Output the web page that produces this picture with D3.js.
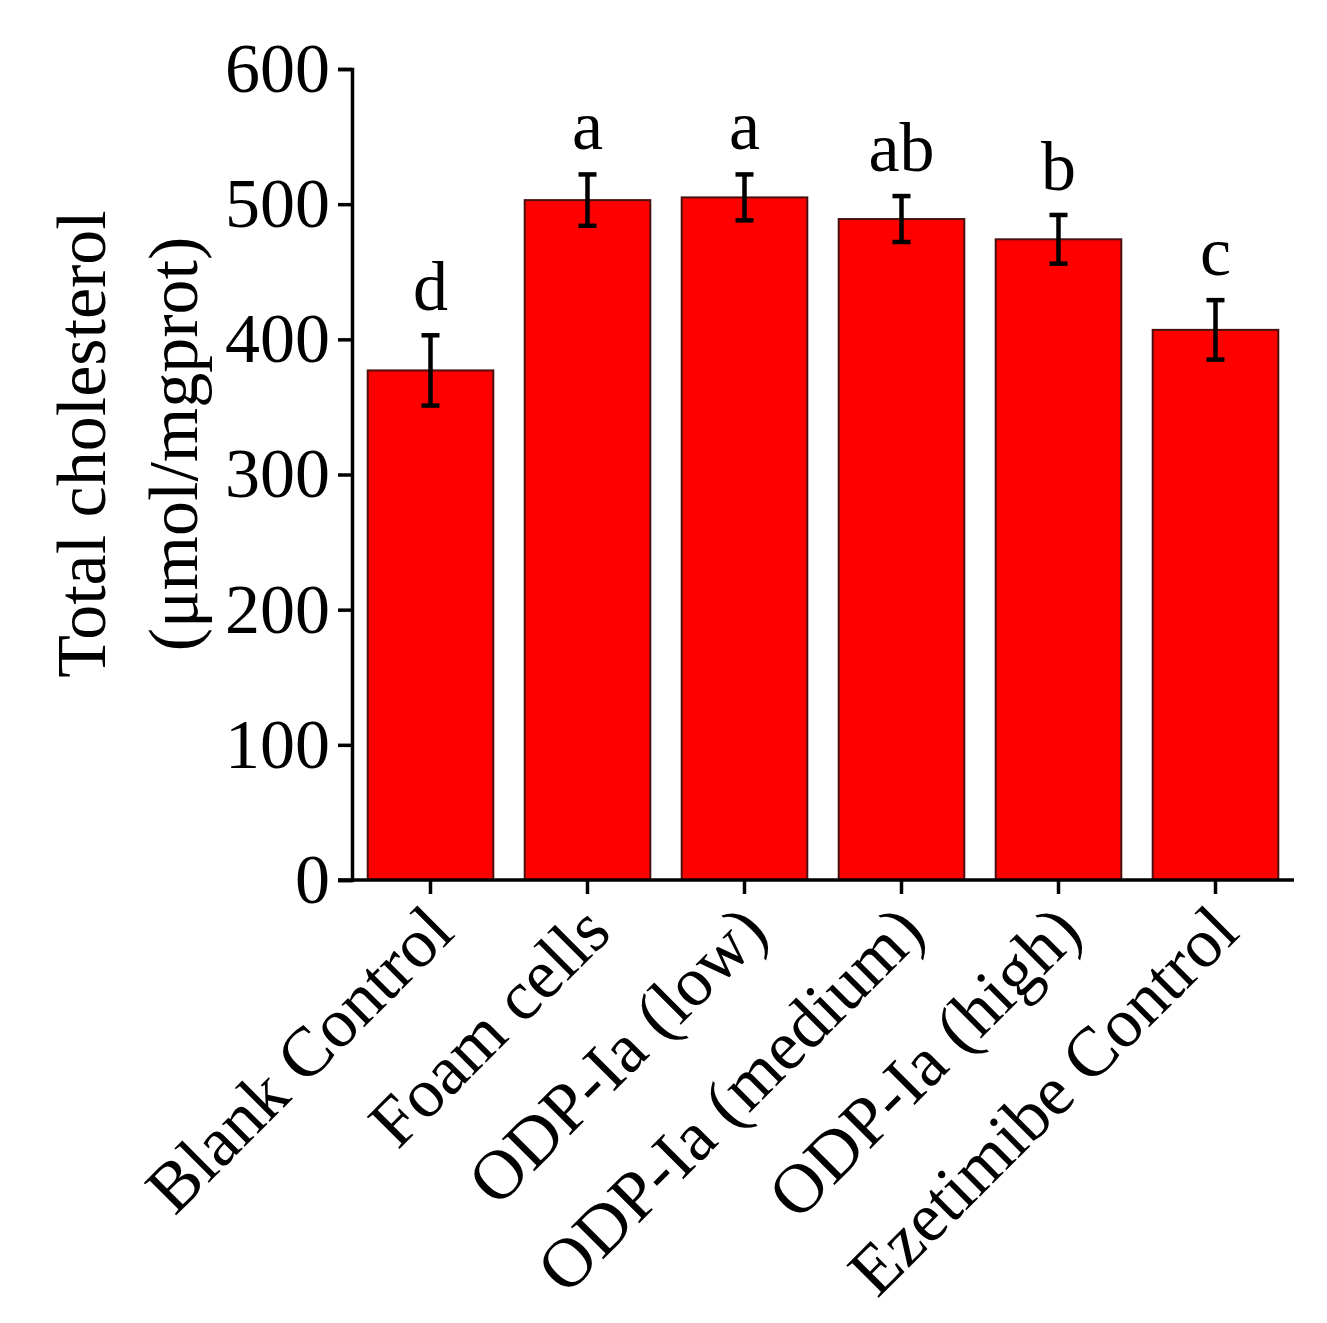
<!DOCTYPE html>
<html>
<head>
<meta charset="utf-8">
<script src="https://cdn.jsdelivr.net/npm/d3@7"></script>
<style>
  html, body { margin: 0; padding: 0; background: #fff; }
  svg text { font-family: "Liberation Serif", "Times New Roman", serif; fill: #000; }
</style>
</head>
<body>
<svg id="chart" width="1327" height="1323"></svg>
<script>
const categories = ["Blank Control", "Foam cells", "ODP-Ia (low)", "ODP-Ia (medium)", "ODP-Ia (high)", "Ezetimibe Control"];
const means = [377, 503, 505, 489, 474, 407];
const errors = [26, 19, 17, 17, 18, 22];
const letters = ["d", "a", "a", "ab", "b", "c"];
const yTicks = [0, 100, 200, 300, 400, 500, 600];
const yTitleLines = ["Total cholesterol", "(\u03BCmol/mgprot)"];

const svg = d3.select("#chart");
const y = d3.scaleLinear().domain([0, 600]).range([880, 69]);
const x = d3.scaleBand().domain(categories).range([352, 1294]).paddingInner(0.2).paddingOuter(0.1);

const data = categories.map((c, i) => ({ c, m: means[i], e: errors[i], l: letters[i] }));

// bars
svg.append("g").selectAll("rect").data(data).join("rect")
  .attr("x", d => x(d.c))
  .attr("y", d => y(d.m))
  .attr("width", x.bandwidth())
  .attr("height", d => y(0) - y(d.m))
  .attr("fill", "#ff0000")
  .attr("stroke", "#4a1010")
  .attr("stroke-width", 2);

// error bars
const eb = svg.append("g").attr("stroke", "#000").attr("stroke-width", 4.5);
data.forEach(d => {
  const cx = x(d.c) + x.bandwidth() / 2;
  eb.append("line").attr("x1", cx).attr("x2", cx).attr("y1", y(d.m - d.e)).attr("y2", y(d.m + d.e));
  eb.append("line").attr("x1", cx - 9).attr("x2", cx + 9).attr("y1", y(d.m - d.e)).attr("y2", y(d.m - d.e));
  eb.append("line").attr("x1", cx - 9).attr("x2", cx + 9).attr("y1", y(d.m + d.e)).attr("y2", y(d.m + d.e));
});

// significance letters
svg.append("g").selectAll("text").data(data).join("text")
  .attr("x", d => x(d.c) + x.bandwidth() / 2)
  .attr("y", d => y(d.m + d.e) - 25)
  .attr("text-anchor", "middle")
  .attr("font-size", 70)
  .text(d => d.l);

// y axis
const yAxis = svg.append("g").attr("transform", "translate(352,0)")
  .call(d3.axisLeft(y).tickValues(yTicks).tickSize(14).tickPadding(8).tickFormat(d3.format("d")));
yAxis.selectAll("path, line").attr("stroke", "#000").attr("stroke-width", 3.5);
yAxis.selectAll("text").attr("font-size", 70).attr("font-family", "Liberation Serif, Times New Roman, serif");

// x axis
const xAxis = svg.append("g").attr("transform", "translate(0,880)")
  .call(d3.axisBottom(x).tickSize(14).tickSizeOuter(0).tickFormat(""));
xAxis.selectAll("path, line").attr("stroke", "#000").attr("stroke-width", 3.5);
xAxis.select(".domain").attr("d", "M338,0H1294");

// x labels
svg.append("g").selectAll("text").data(categories).join("text")
  .attr("transform", d => `translate(${x(d) + x.bandwidth() / 2 + 26},935) rotate(-45)`)
  .attr("text-anchor", "end")
  .attr("font-size", 70)
  .text(d => d);

// y title
const yTitleX = [105, 197];
svg.append("g").selectAll("text").data(yTitleLines).join("text")
  .attr("transform", (d, i) => `translate(${yTitleX[i]},444) rotate(-90)`)
  .attr("text-anchor", "middle")
  .attr("font-size", 70)
  .text(d => d);
</script>
</body>
</html>
